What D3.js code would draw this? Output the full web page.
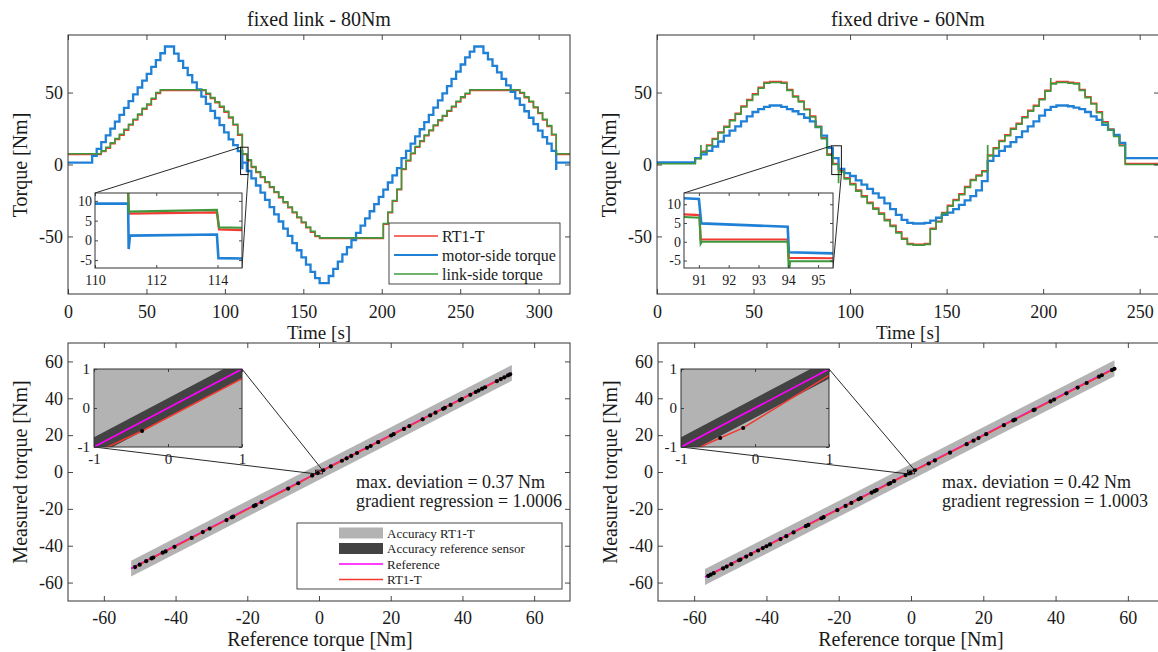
<!DOCTYPE html>
<html><head><meta charset="utf-8">
<script src="https://cdn.jsdelivr.net/npm/d3@7"></script>
<style>
body{margin:0;background:#fff;}
svg{display:block;}
svg text{font-family:"Liberation Serif","Times New Roman",serif;}
</style></head><body>
<script>
// ================= data =================
// fixed link - 80Nm : step change times [s] (first entry = start of record)
const linkTimes = [0,15.4,18.3,21.2,24.1,27.0,29.9,32.8,35.7,38.6,41.5,44.4,47.3,50.2,53.1,56.0,58.9,61.8,64.7,67.6,70.5,73.4,76.3,79.2,82.1,85.0,87.9,90.8,93.7,96.6,99.5,102.4,105.3,108.2,111.1,114.0,116.9,119.8,122.7,125.6,128.5,131.4,134.3,137.2,140.1,143.0,145.9,148.8,151.7,154.6,157.5,160.4,163.3,166.2,169.1,172.0,174.9,177.8,180.7,183.6,186.5,189.4,192.3,195.2,198.1,201.0,203.9,206.8,209.7,212.6,215.5,218.4,221.3,224.2,227.1,230.0,232.9,235.8,238.7,241.6,244.5,247.4,250.3,253.2,256.1,259.0,261.9,264.8,267.7,270.6,273.5,276.4,279.3,282.2,285.1,288.0,290.9,293.8,296.7,299.6,302.5,305.4,308.3,311.2];
const linkEnd = 320;
// torque level held after each change [Nm]
const linkMotor = [1.3,6.0,10.8,15.5,20.3,25.0,29.8,34.5,39.3,44.0,48.8,53.5,58.3,63.0,67.8,72.5,77.3,82.0,82.0,77.0,72.0,67.1,62.1,57.1,52.2,47.2,42.2,37.2,32.3,27.3,22.3,17.4,13.4,9.3,1.3,-4.5,-9.6,-14.6,-19.6,-24.6,-29.6,-34.6,-39.6,-44.6,-49.6,-54.6,-59.6,-64.6,-69.6,-74.6,-79.0,-82.5,-82.5,-77.5,-72.5,-67.5,-62.5,-57.5,-52.5,-47.5,-42.5,-37.5,-32.5,-27.5,-22.5,-17.5,-12.5,-7.5,-2.5,4.5,9.5,14.5,19.5,24.5,29.5,34.5,39.5,44.5,49.5,54.5,59.5,64.5,69.5,74.5,78.5,82.0,82.0,77.5,73.0,68.5,64.0,59.5,55.0,50.5,46.0,41.5,37.0,32.5,28.0,23.5,19.0,14.5,9.5,1.3];
const linkLink = [7.5,7.5,7.5,9.5,12,15,18,21,24.5,28,31.5,35,39,42,46,50,52,52,52,52,52,52,52,52,52,52,49.5,46.5,43.5,40.5,37,33,28,21,7.5,3.2,-1.5,-5,-8.5,-12,-15.5,-19,-22.5,-26,-29.5,-33,-36.5,-40,-43.5,-46.5,-49.5,-51,-51,-51,-51,-51,-51,-51,-51,-51,-51,-51,-51,-51,-51,-41,-33,-25,-17,-3,3,8,12.5,16.5,20.5,24,27.5,31,34,37.5,40.5,44,47,49.5,52,52,52,52,52,52,52,52,52,52,52,50,47,44,40,36,31.5,27,21,7.5];
const linkSensor = [7.0,7.0,7.0,9.0,11.4,14.4,17.4,20.4,23.9,27.4,30.9,34.4,38.4,41.4,45.4,49.4,51.4,51.4,51.4,51.4,51.4,51.4,51.4,51.4,51.4,51.4,48.9,45.9,42.9,39.9,36.4,32.4,27.4,20.4,6.9,2.7,-2.0,-5.5,-9.0,-12.5,-16.0,-19.5,-23.0,-26.5,-30.0,-33.5,-37.0,-40.5,-44.0,-47.0,-50.0,-51.4,-51.4,-51.4,-51.4,-51.4,-51.4,-51.4,-51.4,-51.4,-51.4,-51.4,-51.4,-51.4,-51.4,-41.5,-33.5,-25.5,-17.5,-3.5,2.5,7.5,12.0,16.0,20.0,23.5,27.0,30.5,33.5,37.0,40.0,43.5,46.5,49.0,51.5,51.5,51.5,51.5,51.5,51.5,51.5,51.5,51.5,51.5,51.5,49.5,46.5,43.5,39.5,35.5,31.0,26.5,20.5,7.0];
// short transients at a change: [time, peak]
const linkMotorSpikes = [[111.1,-2.5],[311.2,-3.0]];

// fixed drive - 60Nm
const driveTimes = [0,19.77,22.74,25.71,28.68,31.65,34.62,37.59,40.56,43.53,46.50,49.47,52.44,55.41,58.38,61.35,64.32,67.29,70.26,73.23,76.20,79.17,82.14,85.11,88.08,91.05,94.02,96.99,99.96,102.93,105.90,108.87,111.84,114.81,117.78,120.75,123.72,126.69,129.66,132.63,135.60,138.57,141.54,144.51,147.48,150.45,153.42,156.39,159.36,162.33,165.30,168.27,171.24,174.21,177.18,180.15,183.12,186.09,189.06,192.03,195.00,197.97,200.94,203.91,206.88,209.85,212.82,215.79,218.76,221.73,224.70,227.67,230.64,233.61,236.58,239.55,242.52];
const driveEnd = 260;
const driveMotor = [1.5,4.5,7,9.5,12.5,16,20,23.5,26.5,30,33.5,36.5,38.5,40,41,41,40,38.5,37,35,32.5,30,26,20,11.5,4.5,-3,-6,-8,-11,-14,-17,-20,-23,-27,-31,-35,-38.5,-40.5,-41,-41,-40.5,-39,-37,-35,-33.5,-31,-28,-25,-22,-18,-11.5,2.5,6,9.5,12.5,15.5,19,23,26.5,30,34,38,40,41,41,40.5,39.5,38.5,36.5,33.5,31,27.5,24,20.5,15,4.5];
const driveLink = [0.5,4,8.5,13,17.5,22,26,30.5,35,40,44.5,48.5,53,56.5,57,57,56.5,51.5,47,43.5,38,33,26,18,6.5,0,-5.2,-10,-14,-18.5,-22.5,-27,-31,-34.5,-39,-43,-47.5,-52,-55.5,-56,-56,-55.5,-45,-40,-34,-29,-25,-21,-16,-11,-8,-5,6,11,16,20,24.5,28,32.5,37,40.5,45,51,56,57,57,56.5,56,51.5,46.5,42,36,29,24,19.5,13,0];
const driveSensor = [1.0,4.6,9.1,13.6,18.1,22.6,26.6,31.1,35.6,40.6,45.1,49.1,53.6,57.1,57.6,57.6,57.1,52.1,47.6,44.1,38.6,33.6,26.6,18.6,7.2,0.6,-4.3,-9.3,-13.3,-17.8,-21.8,-26.3,-30.3,-33.8,-38.3,-42.3,-46.8,-51.3,-54.9,-55.4,-55.4,-54.9,-44.4,-39.4,-33.4,-28.4,-24.4,-20.4,-15.4,-10.4,-7.4,-4.4,6.6,11.6,16.6,20.6,25.1,28.6,33.1,37.6,41.1,45.6,51.6,56.6,57.6,57.6,57.1,56.6,52.1,47.1,42.6,36.6,29.6,24.6,20.1,13.6,0.6];
const driveLinkSpikes = [[22.74,13],[94.02,-12.5],[171.24,13],[203.91,59.5]];

// zoomed detail around the zero crossing: [time, torque]
const linkZoomMotor  = [[110,9.3],[111.08,9.3],[111.1,-2.2],[111.14,1.2],[113.98,1.5],[114.03,-4.5],[114.8,-4.6]];
const linkZoomLink   = [[110,20],[111.06,20],[111.1,7.3],[113.98,7.7],[114.05,3.3],[114.8,3.2]];
const linkZoomSensor = [[110,19.5],[111.06,19.5],[111.1,6.8],[113.98,7.1],[114.05,2.8],[114.8,2.6]];
const driveZoomMotor  = [[90.5,11.6],[91.0,11.4],[91.08,4.9],[93.98,4.0],[94.02,-2.8],[95.5,-3.1]];
const driveZoomLink   = [[90.5,6.6],[91.02,6.4],[91.06,-0.5],[91.1,0.0],[93.98,0.0],[94.02,-8],[94.06,-5.2],[95.5,-5.2]];
const driveZoomSensor = [[90.5,7.3],[91.02,7.1],[91.06,0.6],[93.98,0.6],[94.02,-4.3],[95.5,-4.4]];

// static calibration: reference torque vs RT1-T torque [Nm]
const linkRef  = [-51.3,-50.0,-48.2,-46.7,-46.2,-43.6,-42.8,-40.3,-35.5,-32.4,-30.5,-25.8,-24.3,-23.9,-18.2,-17.7,-16.0,-8.6,-5.8,-1.9,-0.35,1.2,3.3,6.4,7.7,9.0,10.6,13.4,14.4,16.5,20.1,20.8,23.7,25.2,28.9,31.0,32.5,34.6,35.1,36.7,39.3,39.8,42.2,43.7,44.5,45.5,46.3,49.6,50.7,51.7,52.7,53.3];
const linkMeas = [-51.6,-50.3,-48.4,-46.9,-46.4,-43.8,-43.1,-40.6,-35.8,-32.6,-30.7,-26.1,-24.6,-24.2,-18.5,-18.0,-16.3,-8.97,-6.1,-1.95,-0.59,0.95,3.0,6.1,7.4,8.7,10.3,13.1,14.1,16.2,19.8,20.5,23.4,24.9,28.6,30.7,32.2,34.3,34.8,36.4,39.0,39.5,41.9,43.4,44.2,45.2,46.0,49.3,50.4,51.4,52.4,53.0];
const driveRef  = [-56.1,-55.4,-54.6,-52.0,-51.0,-49.7,-47.6,-47.2,-45.6,-44.3,-42.3,-41.0,-40.0,-39.0,-36.1,-34.5,-32.5,-29.1,-28.4,-24.8,-24.2,-20.4,-18.1,-16.5,-14.5,-13.9,-10.9,-10.1,-9.5,-6.2,-5.7,-4.7,-1.5,-0.47,-0.16,1.1,4.9,6.6,10.8,15.4,17.3,18.7,20.8,25.7,28.3,28.8,33.9,34.2,38.6,39.6,43.0,46.1,48.6,52.0,52.8,55.6,56.3];
const driveMeas = [-56.4,-55.7,-54.9,-52.3,-51.3,-50.0,-47.9,-47.5,-45.9,-44.6,-42.6,-41.3,-40.3,-39.3,-36.4,-34.8,-32.8,-29.4,-28.7,-25.1,-24.5,-20.7,-18.4,-16.8,-14.8,-14.2,-11.2,-10.4,-9.8,-6.5,-6.0,-5.0,-1.65,-0.77,-0.51,0.95,4.6,6.3,10.5,15.1,17.0,18.4,20.5,25.4,28.0,28.5,33.6,33.9,38.3,39.3,42.7,45.8,48.3,51.7,52.5,55.3,56.0];
const linkBandRange  = [-52.4, 53.8];
const driveBandRange = [-57.0, 56.3];
const rt1Accuracy = 4.3;   // +/- Nm
const refAccuracy = 0.25;  // +/- Nm

// ticks and labels
const timeTicksLink  = [0,50,100,150,200,250,300];
const timeTicksDrive = [0,50,100,150,200,250];
const torqueTicks    = [-50,0,50];
const calTicks       = [-60,-40,-20,0,20,40,60];
const zoomTicksLinkX  = [110,112,114];
const zoomTicksDriveX = [91,92,93,94,95];
const zoomTicksY      = [-5,0,5,10];
const calZoomTicks    = [-1,0,1];
const titles = ["fixed link - 80Nm", "fixed drive - 60Nm"];
const seriesNames = ["RT1-T", "motor-side torque", "link-side torque"];
const calNames = ["Accuracy RT1-T", "Accuracy reference sensor", "Reference", "RT1-T"];
const stats = [["max. deviation = 0.37 Nm", "gradient regression = 1.0006"],
               ["max. deviation = 0.42 Nm", "gradient regression = 1.0003"]];

// ================= drawing =================
const FONT = "'Liberation Serif', 'Times New Roman', serif";
const C = {motor:"#1f80d6", link:"#3f983c", sensor:"#f23a32", ref:"#ff00ff",
           band:"#b3b3b3", bandRef:"#434343", axis:"#333", text:"#1a1a1a"};

const svg = d3.select("body").append("svg").attr("width",1158).attr("height",652)
  .attr("font-family", FONT);
const defs = svg.append("defs");
let clipN = 0;

function scales(xr, yr, xd, yd){
  return {x:d3.scaleLinear().domain(xd).range(xr), y:d3.scaleLinear().domain(yd).range(yr)};
}
function clip(s){
  const id = "clip"+(clipN++);
  const [x0,x1] = s.x.range(), [y0,y1] = s.y.range();
  defs.append("clipPath").attr("id",id).append("rect")
    .attr("x",x0).attr("y",y1).attr("width",x1-x0).attr("height",y0-y1);
  return "url(#"+id+")";
}
function axes(s, xt, yt, o){
  const g = svg.append("g");
  const [x0,x1] = s.x.range(), [y0,y1] = s.y.range();
  const fmt = d => String(d);
  const tl = o.tick;
  g.append("g").attr("transform",`translate(0,${y0})`)
    .call(d3.axisBottom(s.x).tickValues(xt).tickSizeInner(-tl).tickSizeOuter(0).tickPadding(o.xpad).tickFormat(fmt));
  g.append("g").attr("transform",`translate(0,${y1})`)
    .call(d3.axisTop(s.x).tickValues(xt).tickSizeInner(-tl).tickSizeOuter(0).tickFormat(""));
  g.append("g").attr("transform",`translate(${x0},0)`)
    .call(d3.axisLeft(s.y).tickValues(yt).tickSizeInner(-tl).tickSizeOuter(0).tickPadding(o.ypad).tickFormat(fmt));
  g.append("g").attr("transform",`translate(${x1},0)`)
    .call(d3.axisRight(s.y).tickValues(yt).tickSizeInner(-tl).tickSizeOuter(0).tickFormat(""));
  g.selectAll(".domain").remove();
  g.selectAll(".tick line").attr("stroke",C.axis).attr("stroke-width",0.9);
  g.selectAll("g").attr("font-family",FONT).attr("font-size",o.font);
  g.selectAll(".tick text").attr("fill",C.text).attr("font-family",FONT).style("font-size",o.font+"px");
  g.append("rect").attr("x",x0).attr("y",y1).attr("width",x1-x0).attr("height",y0-y1)
    .attr("fill","none").attr("stroke",C.axis).attr("stroke-width",1);
  return g;
}
function stepPoints(times, values, tEnd, spikes){
  const pts = [];
  times.forEach((t,i)=>{
    const s = spikes ? spikes.find(p=>p[0]===t) : null;
    if (s){ pts.push([t,s[1]]); pts.push([t+0.05,values[i]]); }
    else pts.push([t,values[i]]);
  });
  pts.push([tEnd, values[values.length-1]]);
  return pts;
}
function drawStep(g, s, pts, color, w){
  g.append("path").datum(pts).attr("fill","none").attr("stroke",color).attr("stroke-width",w)
    .attr("d", d3.line().x(d=>s.x(d[0])).y(d=>s.y(d[1])).curve(d3.curveStepAfter));
}
function drawPoly(g, s, pts, color, w){
  g.append("path").datum(pts).attr("fill","none").attr("stroke",color).attr("stroke-width",w)
    .attr("d", d3.line().x(d=>s.x(d[0])).y(d=>s.y(d[1])));
}
function text(x, y, str, size, anchor, rot){
  const t = svg.append("text").attr("x",x).attr("y",y).text(str)
    .attr("font-family",FONT).attr("font-size",size).attr("fill",C.text).attr("text-anchor",anchor||"start");
  if (rot) t.attr("transform",`rotate(${rot},${x},${y})`);
  return t;
}
function seg(x1,y1,x2,y2,w){
  svg.append("line").attr("x1",x1).attr("y1",y1).attr("x2",x2).attr("y2",y2)
    .attr("stroke","#111").attr("stroke-width",w||0.9);
}

// ---------- time-series panels ----------
function timePanel(cfg){
  const s = scales(cfg.xr, [294,35], [0,cfg.tEnd], [-90,90]);
  const g = svg.append("g").attr("clip-path", clip(s));
  drawStep(g, s, stepPoints(cfg.times, cfg.sensor, cfg.tEnd), C.sensor, 1.6);
  drawStep(g, s, stepPoints(cfg.times, cfg.motor, cfg.tEnd, cfg.motorSpikes), C.motor, 2.3);
  drawStep(g, s, stepPoints(cfg.times, cfg.link, cfg.tEnd, cfg.linkSpikes), C.link, 1.6);
  axes(s, cfg.xt, torqueTicks, {tick:5, xpad:11, ypad:5, font:18});

  // zoom window and its detail view
  const z = scales(cfg.zx, [268,193], cfg.zxd, [-7, cfg.zymax]);
  const rx0 = s.x(cfg.zxd[0]), rx1 = s.x(cfg.zxd[1]), ry0 = s.y(cfg.zymax), ry1 = s.y(-7);
  svg.append("rect").attr("x",rx0).attr("y",ry0).attr("width",rx1-rx0).attr("height",ry1-ry0)
    .attr("fill","none").attr("stroke","#111").attr("stroke-width",1);
  seg(rx0, ry0, cfg.zx[0], 193);
  seg(rx1, ry1, cfg.zx[1], 268);
  svg.append("rect").attr("x",cfg.zx[0]).attr("y",193).attr("width",cfg.zx[1]-cfg.zx[0]).attr("height",75).attr("fill","#fff");
  const zg = svg.append("g").attr("clip-path", clip(z));
  drawPoly(zg, z, cfg.zSensor, C.sensor, 2.2);
  drawPoly(zg, z, cfg.zMotor, C.motor, 2.6);
  drawPoly(zg, z, cfg.zLink, C.link, 2.2);
  axes(z, cfg.zxt, zoomTicksY, {tick:3, xpad:7, ypad:3, font:14});

  const cx = (cfg.xr[0]+cfg.xr[1])/2;
  text(cx, 26, cfg.title, 20, "middle");
  text(cx, 339, "Time [s]", 19, "middle");
  text(cfg.ylabX, 165, "Torque [Nm]", 20, "middle", -90);
}

timePanel({xr:[68,570], tEnd:linkEnd, times:linkTimes, motor:linkMotor, link:linkLink, sensor:linkSensor,
  motorSpikes:linkMotorSpikes, linkSpikes:null, xt:timeTicksLink,
  zx:[95,242], zxd:[110,114.8], zymax:12, zxt:zoomTicksLinkX,
  zMotor:linkZoomMotor, zLink:linkZoomLink, zSensor:linkZoomSensor,
  title:titles[0], ylabX:27});
timePanel({xr:[657,1159], tEnd:driveEnd, times:driveTimes, motor:driveMotor, link:driveLink, sensor:driveSensor,
  motorSpikes:null, linkSpikes:driveLinkSpikes, xt:timeTicksDrive,
  zx:[684,833], zxd:[90.5,95.5], zymax:13, zxt:zoomTicksDriveX,
  zMotor:driveZoomMotor, zLink:driveZoomLink, zSensor:driveZoomSensor,
  title:titles[1], ylabX:616});

// legend (time series)
(function(){
  const lx = 389, ly = 223;
  svg.append("rect").attr("x",lx).attr("y",ly).attr("width",171).attr("height",61)
    .attr("fill","#fff").attr("stroke",C.axis).attr("stroke-width",0.9);
  const cols = [C.sensor, C.motor, C.link];
  seriesNames.forEach((n,i)=>{
    const y = ly + 13 + i*19;
    svg.append("line").attr("x1",lx+5).attr("x2",lx+49).attr("y1",y).attr("y2",y)
      .attr("stroke",cols[i]).attr("stroke-width",i===1?2.2:1.6);
    text(lx+53, y+5.5, n, 16);
  });
})();

// ---------- calibration panels ----------
function calPanel(cfg){
  const s = scales(cfg.xr, [601,343], [-70,70], [-70,70]);
  const pts = cfg.ref.map((r,i)=>[r, cfg.meas[i]]);
  function content(g, sc, dotR){
    const [b0,b1] = cfg.band;
    const poly = (a)=>[[b0,b0-a],[b1,b1-a],[b1,b1+a],[b0,b0+a]];
    const area = d3.line().x(d=>sc.x(d[0])).y(d=>sc.y(d[1]));
    g.append("path").attr("d", area(poly(rt1Accuracy))+"Z").attr("fill",C.band);
    g.append("path").attr("d", area(poly(refAccuracy))+"Z").attr("fill",C.bandRef);
    drawPoly(g, sc, [[b0,b0],[b1,b1]], C.ref, 1.6);
    drawPoly(g, sc, pts, C.sensor, 1.5);
    g.selectAll(null).data(pts).enter().append("circle")
      .attr("cx",d=>sc.x(d[0])).attr("cy",d=>sc.y(d[1])).attr("r",dotR).attr("fill","#000");
  }
  content(svg.append("g").attr("clip-path", clip(s)), s, 2.1);
  axes(s, calTicks, calTicks, {tick:5, xpad:10, ypad:5, font:18});

  // detail view of [-1,1] x [-1,1]
  const z = scales(cfg.zx, [447,369], [-1,1], [-1,1]);
  svg.append("rect").attr("x",s.x(-1)).attr("y",s.y(1)).attr("width",s.x(1)-s.x(-1)).attr("height",s.y(-1)-s.y(1))
    .attr("fill","none").attr("stroke","#111").attr("stroke-width",0.8);
  seg(s.x(1), s.y(1), cfg.zx[1], 369);
  seg(s.x(-1), s.y(-1), cfg.zx[0], 447);
  svg.append("rect").attr("x",cfg.zx[0]).attr("y",369).attr("width",cfg.zx[1]-cfg.zx[0]).attr("height",78).attr("fill","#fff");
  content(svg.append("g").attr("clip-path", clip(z)), z, 2.0);
  axes(z, calZoomTicks, calZoomTicks, {tick:3, xpad:6, ypad:4, font:15});

  text(cfg.labCx, 646, "Reference torque [Nm]", 20, "middle");
  text(cfg.ylabX, 472, "Measured torque [Nm]", 20, "middle", -90);
  text(cfg.statX, 488, cfg.stats[0], 18);
  text(cfg.statX, 507, cfg.stats[1], 18);
}
calPanel({xr:[68,570], ref:linkRef, meas:linkMeas, band:linkBandRange, zx:[94,242],
  labCx:320, ylabX:27, statX:356, stats:stats[0]});
calPanel({xr:[658,1164], ref:driveRef, meas:driveMeas, band:driveBandRange, zx:[681,829],
  labCx:911, ylabX:617, statX:942, stats:stats[1]});

// legend (calibration)
(function(){
  const lx = 297, ly = 523;
  svg.append("rect").attr("x",lx).attr("y",ly).attr("width",265).attr("height",66)
    .attr("fill","#fff").attr("stroke",C.axis).attr("stroke-width",0.9);
  calNames.forEach((n,i)=>{
    const y = ly + 10 + i*15.5;
    if (i<2){
      svg.append("rect").attr("x",lx+42).attr("y",y-5.5).attr("width",44).attr("height",11)
        .attr("fill", i===0 ? C.band : C.bandRef);
    } else {
      svg.append("line").attr("x1",lx+42).attr("x2",lx+86).attr("y1",y).attr("y2",y)
        .attr("stroke", i===2 ? C.ref : C.sensor).attr("stroke-width",1.5);
    }
    text(lx+90, y+4.5, n, 13);
  });
})();
</script></body></html>
